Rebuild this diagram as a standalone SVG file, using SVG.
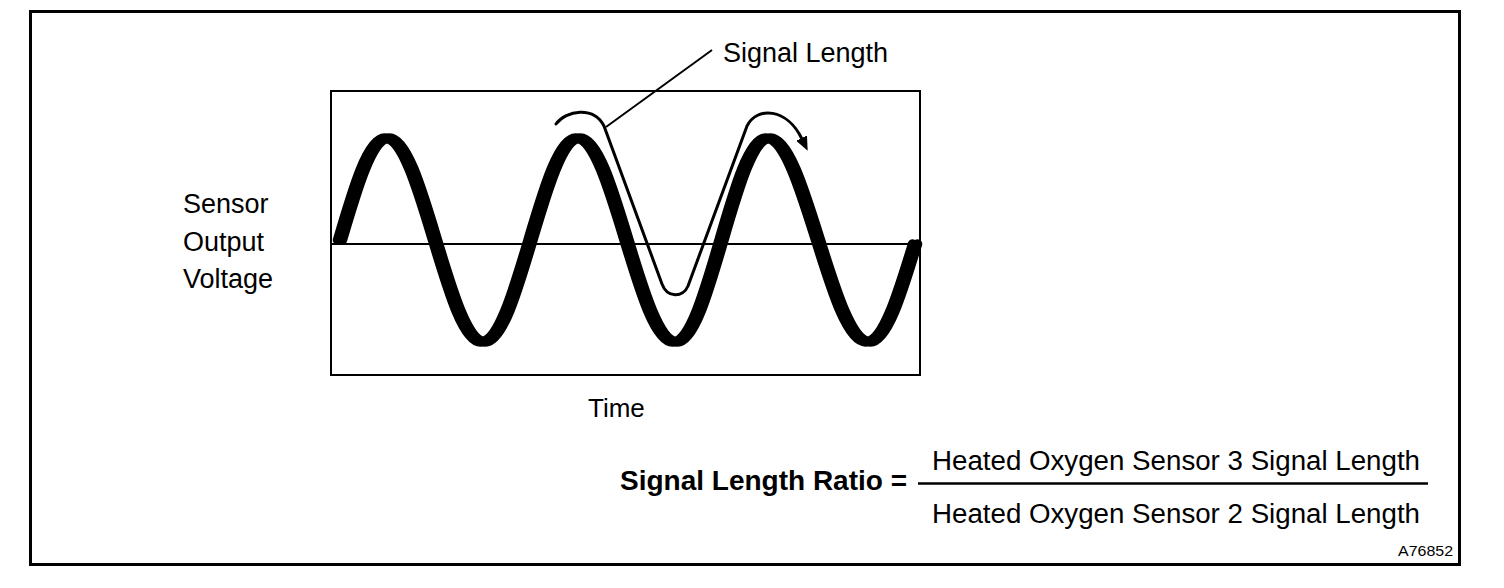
<svg xmlns="http://www.w3.org/2000/svg" width="1504" height="588" viewBox="0 0 1504 588">
<style>
text{font-family:"Liberation Sans",Arial,sans-serif;fill:#000}
.frame{fill:none;stroke:#000}
.wave{fill:none;stroke:#000;stroke-width:9.5;stroke-linecap:round;stroke-linejoin:round}
.thin{fill:none;stroke:#000;stroke-width:3;stroke-linecap:round;stroke-linejoin:round}
</style>
<defs>
<marker id="ah" markerUnits="userSpaceOnUse" viewBox="0 0 14 12" refX="1" refY="6" markerWidth="14" markerHeight="12" orient="auto">
<path d="M0,0 L14,6 L0,12 Z" fill="#000"/>
</marker>
<path id="wavepath" d="M340,240 C355.3,187.8 369.9,138 387,138 C404.4,138 419.3,187.8 435,240 C450.7,292.2 465.6,342 483,342 C500.3,342 515,292.2 530.5,240 C546,187.8 560.7,138 578,138 C595.6,138 610.7,187.8 626.5,240 C642.3,292.2 657.4,342 675,342 C691.9,342 706.3,292.2 721.5,240 C736.7,187.8 751.1,138 768,138 C786.2,138 801.7,187.8 818,240 C834.3,292.2 849.8,342 868,342 C885.4,342 900.3,292.2 915,244"/>
</defs>
<rect id="outer-frame" class="frame" x="30.5" y="11.5" width="1429" height="553" stroke-width="3"/>
<g id="plot">
<rect class="frame" x="331" y="91" width="589" height="284" stroke-width="2"/>
<line x1="331" y1="244" x2="920" y2="244" stroke="#000" stroke-width="2"/>
<use href="#wavepath" class="wave" transform="translate(-2.5,0)"/>
<use href="#wavepath" class="wave" transform="translate(2.5,0)"/>
</g>
<g id="connectors">
<path id="signal-length-path" class="thin" d="M556,124 C566,110 594,106 604,126 L662,284 C667,298 683,298 688,286 L747,126 C757,106 787,108 802,139" marker-end="url(#ah)"/>
<line id="leader" x1="712" y1="50" x2="606" y2="127" stroke="#000" stroke-width="2"/>
</g>
<g id="label-signal-length"><text x="723" y="62" font-size="27">Signal Length</text></g>
<g id="label-y-axis">
<text x="183" y="213" font-size="27">Sensor</text>
<text x="183" y="250.5" font-size="27">Output</text>
<text x="183" y="288" font-size="27">Voltage</text>
</g>
<g id="label-x-axis"><text x="588" y="417" font-size="26">Time</text></g>
<g id="formula">
<text x="620" y="490" font-size="28" font-weight="bold">Signal Length Ratio =</text>
<text x="932" y="470" font-size="27" textLength="488" lengthAdjust="spacingAndGlyphs">Heated Oxygen Sensor 3 Signal Length</text>
<line x1="918" y1="483.5" x2="1428" y2="483.5" stroke="#000" stroke-width="2.5"/>
<text x="932" y="523" font-size="27" textLength="488" lengthAdjust="spacingAndGlyphs">Heated Oxygen Sensor 2 Signal Length</text>
</g>
<g id="figure-id"><text x="1398" y="556" font-size="15" textLength="55" lengthAdjust="spacingAndGlyphs">A76852</text></g>
</svg>
